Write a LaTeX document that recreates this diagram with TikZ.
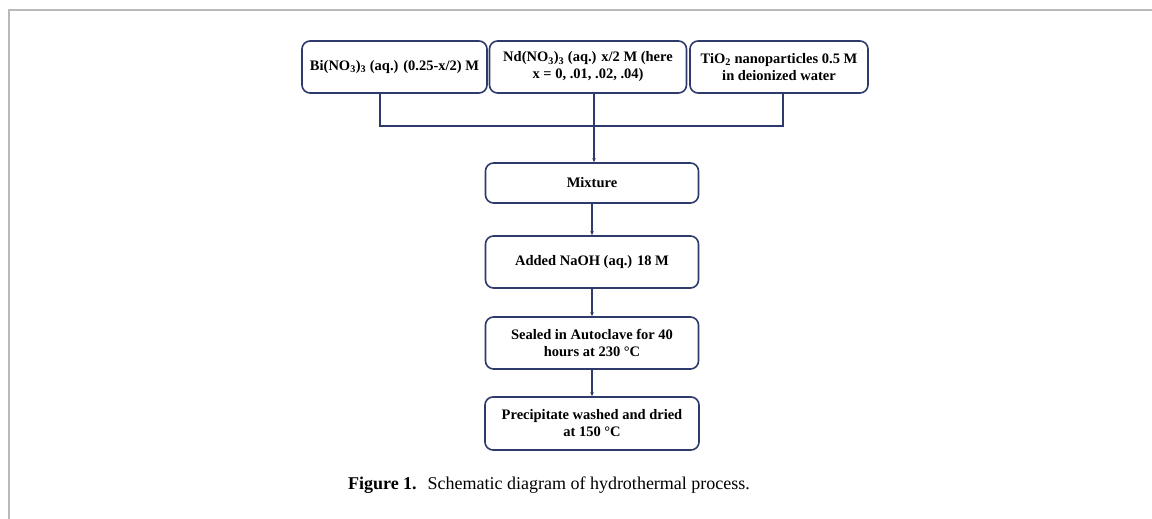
\documentclass[tikz,border=0pt]{standalone}
\usepackage{fontspec}
\setmainfont{Liberation Serif}
\usetikzlibrary{arrows.meta}
\definecolor{navy}{HTML}{2E3A6B}
\tikzset{
    stepbox/.style={draw=navy, line width=1.6pt, rounded corners=8pt, align=center,
        font=\fontsize{14.5}{17}\selectfont\bfseries, inner sep=0pt},
    flow/.style={draw=navy, line width=1.3pt},
    flowarrow/.style={flow, -{Stealth[length=4pt,width=3.5pt]}}
}
\begin{document}
\begin{tikzpicture}[x=1pt, y=-1pt]
        \useasboundingbox (0,0) rectangle (1152,519);
        % open frame
        \draw[gray!55, line width=1.5pt] (9,519) -- (9,10) -- (1152,10);
        
        % starting solutions
        \node[stepbox, minimum width=185pt, minimum height=52pt] (bi) at (394.5,67) {Bi(NO\textsubscript{3})\textsubscript{3} (aq.) (0.25-x/2) M};
        \node[stepbox, minimum width=197pt, minimum height=52pt] (nd) at (588,67) {Nd(NO\textsubscript{3})\textsubscript{3} (aq.) x/2 M (here\\ x = 0, .01, .02, .04)};
        \node[stepbox, minimum width=178pt, minimum height=52pt] (ti) at (779,67) {TiO\textsubscript{2} nanoparticles 0.5 M\\ in deionized water};
        
        % process steps
        \node[stepbox, minimum width=213pt, minimum height=40pt] (mix) at (592,183) {Mixture};
        \node[stepbox, minimum width=213pt, minimum height=52pt] (naoh) at (592,262) {Added NaOH (aq.) 18 M};
        \node[stepbox, minimum width=213pt, minimum height=52pt] (seal) at (592,343) {Sealed in Autoclave for 40\\ hours at 230 °C};
        \node[stepbox, minimum width=214pt, minimum height=53pt] (dry) at (592,423.5) {Precipitate washed and dried\\ at 150 °C};
        
        \coordinate (join) at (594,126);
        \draw[flow] ([xshift=-14.5pt]bi.south) |- (join) -| ([xshift=4pt]ti.south);
        \draw[flowarrow] ([xshift=6pt]nd.south) -- (join) -- (mix.north -| join);
        \draw[flowarrow] (mix.south) -- (naoh.north);
        \draw[flowarrow] (naoh.south) -- (seal.north);
        \draw[flowarrow] (seal.south) -- (dry.north);
        
        \node[font=\fontsize{18}{20}\selectfont] (cap) at (549,485) {\textbf{Figure 1.}\hspace{0.6em}Schematic diagram of hydrothermal process.};
        
    \end{tikzpicture}
\end{document}
